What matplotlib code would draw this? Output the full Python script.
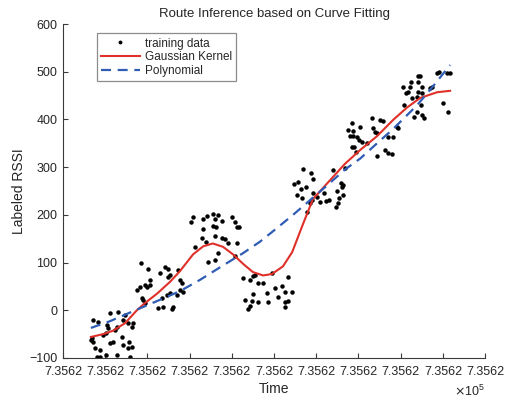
import matplotlib
matplotlib.use("Agg")
import matplotlib.pyplot as plt
import numpy as np

plt.rcParams['font.family'] = ['Liberation Sans', 'DejaVu Sans']

# ---- data (x in tick units of the time axis, y = labeled RSSI) ----
train_x = [
    # cluster 1
    0.66, 0.71, 0.76, 0.88, 0.81, 0.71, 0.83, 1.04, 1.07, 1.02, 0.95, 1.11, 1.30, 1.23, 1.28,
    1.11, 1.18, 1.02, 1.28, 1.42, 1.54, 1.56, 1.64, 1.40, 1.54, 1.64, 1.66, 1.42, 1.59, 0.88,
    0.69, 1.47,
    # cluster 2
    1.75, 1.82, 1.99, 2.06, 1.87, 1.90, 2.25, 2.37, 2.58, 2.46, 2.54, 2.77, 2.84, 2.70, 1.85,
    2.01, 2.06, 1.94, 2.30, 2.42, 2.49, 2.49, 2.54, 2.73, 2.77, 2.82, 1.94, 2.35, 2.61,
    # cluster 3
    3.08, 3.03, 3.32, 3.41, 3.55, 3.67, 3.60, 3.77, 3.55, 3.63, 4.00, 4.08, 4.12, 4.17, 3.32,
    3.60, 3.29, 3.77, 3.13, 3.39, 3.84, 3.91, 4.12, 3.67, 3.44, 3.60, 4.08,
    # cluster 4
    4.27, 4.43, 4.50, 4.62, 4.74, 4.95, 5.33, 5.02, 5.19, 5.26, 5.43, 4.83, 4.50, 4.31, 4.48,
    4.62, 4.86, 5.09, 5.26, 5.33, 5.26, 4.43, 4.38, 4.55,
    # cluster 5
    5.69, 5.88, 5.92, 5.47, 5.57, 5.64, 5.76, 5.55, 5.66, 5.92, 6.02, 5.90, 5.85, 6.09, 6.23,
    6.30, 6.18, 6.40, 6.59, 6.64, 6.61, 6.49, 6.64, 6.54, 6.52, 6.47, 5.78, 6.68,
    # cluster 6
    6.85, 7.04, 6.75, 6.87, 6.80, 6.87, 6.97, 7.01, 7.09, 6.85, 6.90, 6.94, 7.32, 7.51, 7.58,
    7.35, 7.39, 7.44, 7.20, 7.44, 7.63, 7.70, 7.80, 7.70, 7.82, 7.91, 7.94,
    # cluster 7
    8.06, 8.13, 8.18, 8.22, 8.25, 8.41, 8.46, 8.41, 8.51, 8.41, 8.51, 8.27, 8.39, 8.08, 8.48,
    8.39, 8.32, 8.51, 8.55, 8.74, 8.70, 8.86, 8.91, 9.10, 9.17, 9.00, 9.12,
]
train_y = [
    -62, -66, -79, -83, -98, -20, -25, -31, -37, -48, -52, -6, -4, -41, -35,
    -69, -66, -94, -94, -73, -79, -66, -77, -56, -27, -35, -27, -20, -98, -98,
    -58, -10,
    43, 49, 49, 53, 26, 22, 5, 7, 3, 32, 36, 43, 38, 32, 99,
    87, 63, 53, 78, 91, 87, 70, 74, 84, 63, 57, 15, 26, 7,
    196, 185, 191, 198, 202, 200, 191, 187, 177, 175, 196, 185, 175, 175, 170,
    156, 152, 152, 133, 143, 149, 141, 141, 120, 101, 105, 114,
    68, 63, 72, 57, 57, 78, 70, 47, 51, 38, 38, 36, 34, 22, 19,
    17, 17, 28, 17, 19, 7, 9, 3, 74,
    296, 288, 275, 265, 269, 254, 258, 242, 235, 246, 237, 231, 225, 227, 229,
    231, 246, 294, 267, 263, 258, 250, 242, 235, 225, 216, 206, 298,
    393, 384, 378, 376, 365, 365, 363, 357, 353, 342, 342, 332, 403, 399, 397,
    382, 374, 372, 351, 323, 336, 330, 328, 363, 363, 384, 382,
    468, 455, 458, 468, 478, 491, 491, 478, 468, 458, 455, 445, 447, 430, 430,
    416, 405, 409, 403, 468, 466, 497, 499, 497, 497, 434, 416,
]

gauss_x = [0.66, 0.95, 1.18, 1.47, 1.75, 1.94, 2.23, 2.54, 2.77, 3.08, 3.32, 3.55, 3.79, 4.03,
           4.27, 4.50, 4.74, 4.95, 5.21, 5.43, 5.66, 5.92, 6.33, 6.68, 7.04, 7.44, 7.82, 8.15,
           8.46, 8.86, 9.17]
gauss_y = [-56, -50, -43, -27, 0, 15, 35, 60, 82, 117, 134, 140, 133, 117,
           97, 80, 73, 76, 92, 122, 175, 233, 273, 307, 336, 365, 399, 425,
           445, 457, 460]

poly_x = [0.66, 1.11, 1.66, 2.30, 2.77, 3.25, 3.72, 4.27, 4.67, 4.98, 5.45, 5.92, 6.26, 6.68,
          7.04, 7.44, 7.82, 8.39, 8.77, 9.17]
poly_y = [-37, -23, -2, 22, 40, 64, 90, 120, 144, 166, 200, 236, 262, 295,
          318, 350, 380, 430, 470, 514]

xtick_pos = list(range(11))
xtick_labels = ["7.3562"] * 11
yticks = [-100, 0, 100, 200, 300, 400, 500, 600]

# ---- figure ----
fig = plt.figure(figsize=(5.08, 4.03), dpi=100)
ax = fig.add_axes([0.124, 0.1117, 0.831, 0.8287])

axis_col = '#3a3a3a'
text_col = '#262626'

ax.plot(train_x, train_y, linestyle='none', marker='o', markersize=2.2,
        color='black', label='training data')
ax.plot(gauss_x, gauss_y, color='#e0302a', linewidth=1.5, label='Gaussian Kernel')
ax.plot(poly_x, poly_y, color='#2f5cb5', linewidth=1.6, linestyle=(0, (4.5, 3)),
        label='Polynomial')

ax.set_xlim(0, 10)
ax.set_ylim(-100, 600)
ax.set_xticks(xtick_pos)
ax.set_xticklabels(xtick_labels)
ax.set_yticks(yticks)

for s in ['top', 'right']:
    ax.spines[s].set_visible(False)
for s in ['left', 'bottom']:
    ax.spines[s].set_color(axis_col)
    ax.spines[s].set_linewidth(0.8)

ax.tick_params(direction='in', length=3.5, width=0.8, colors=axis_col,
               labelcolor=text_col, labelsize=9)
ax.tick_params(axis='x', pad=6)
ax.tick_params(axis='y', pad=4)

ax.set_title('Route Inference based on Curve Fitting', fontsize=9.5, color=text_col, pad=5)
ax.set_xlabel('Time', fontsize=10, color=text_col, labelpad=3)
ax.set_ylabel('Labeled RSSI', fontsize=10, color=text_col, labelpad=2)

ax.text(1.0, -0.10, r'$\times\mathregular{10^5}$', transform=ax.transAxes,
        ha='right', va='center', fontsize=9, color=text_col)

leg = ax.legend(loc='upper left', bbox_to_anchor=(0.08, 0.972), fontsize=8.5,
                frameon=True, fancybox=False, handlelength=3.3, handletextpad=0.4,
                borderpad=0.35, labelspacing=0.15, borderaxespad=0.0, markerscale=0.8)
leg.get_frame().set_edgecolor('#707070')
leg.get_frame().set_linewidth(0.9)
for t in leg.get_texts():
    t.set_color(text_col)

fig.savefig('out.png', dpi=100)
